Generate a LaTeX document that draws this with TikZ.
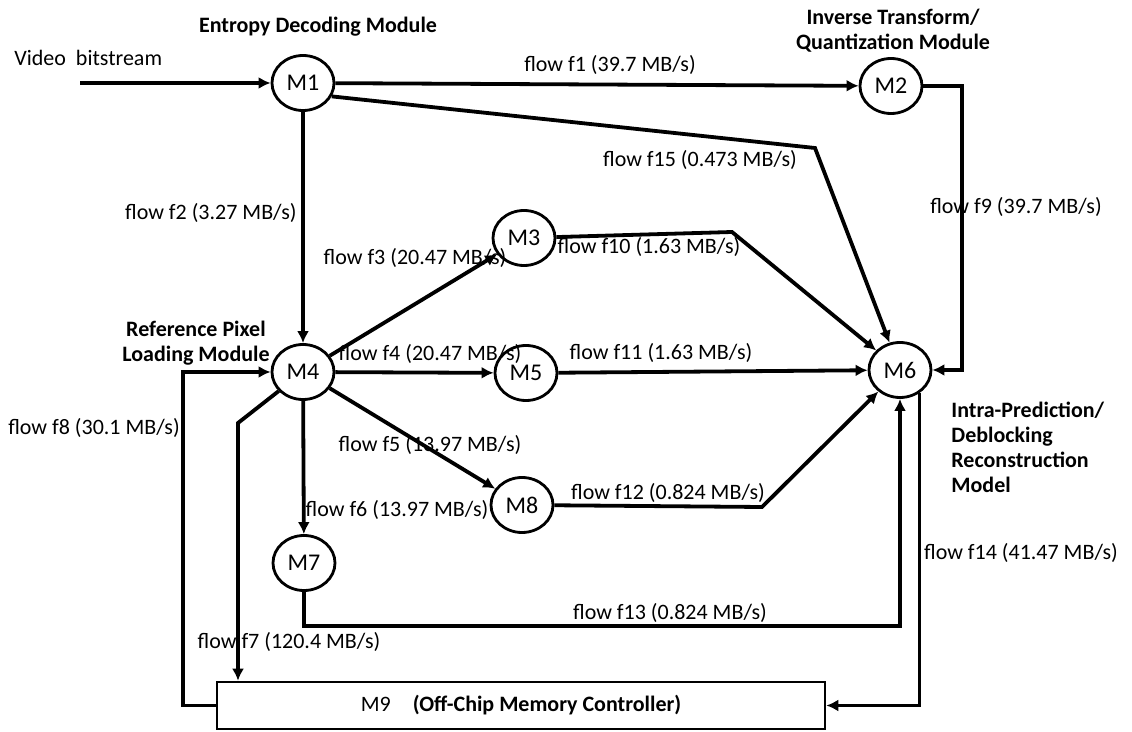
\documentclass[tikz,border=0pt]{standalone}
\usepackage{fontspec}
\setmainfont{Carlito}
\usetikzlibrary{shapes.geometric,arrows.meta}

\begin{document}
\begin{tikzpicture}[
  x=0.5pt, y=-0.5pt,
  module/.style={ellipse, draw, line width=1.4pt, fill=white, minimum width=31pt, minimum height=27.5pt, inner sep=0pt, font=\fontsize{12}{13}\selectfont},
  memctl/.style={rectangle, draw, line width=1.3pt, fill=white, minimum width=304pt, minimum height=23.5pt, inner sep=0pt, font=\fontsize{11}{12.5}\selectfont},
  rate/.style={font=\fontsize{11}{12.5}\selectfont, inner sep=1pt},
  title/.style={font=\fontsize{11}{12.5}\selectfont\bfseries, align=center, inner sep=0pt},
  flow/.style={-{Latex[length=6pt,width=6pt]}, line width=1.9pt},
]
\useasboundingbox (0,0) rectangle (1132,732);

% Modules
\node[module] (m1) at (303,83) {M1};
\node[module] (m2) at (891,86) {M2};
\node[module] (m3) at (524,238) {M3};
\node[module] (m4) at (303,372) {M4};
\node[module] (m5) at (526,373) {M5};
\node[module] (m6) at (900,370) {M6};
\node[module] (m7) at (304,563) {M7};
\node[module] (m8) at (522,505) {M8};
\node[memctl] (m9) at (521,705.5) {M9\quad\textbf{(Off-Chip Memory Controller)}};

% Module names
\node[title] (tm1) at (318,27) {Entropy Decoding Module};
\node[title] (tm2) at (893,31) {Inverse Transform/\\Quantization Module};
\node[title] (tm4) at (196,343) {Reference Pixel\\Loading Module};
\node[title, align=left, anchor=west] (tm6) at (951,447) {Intra-Prediction/\\Deblocking\\Reconstruction\\Model};
\node[rate, anchor=west] (vin) at (12,58) {Video\ \ bitstream};

% Bends
\coordinate (src) at (80,83);
\coordinate (b7) at (238,423);
\coordinate (c8) at (183,705.5);
\coordinate (c9) at (962,200);
\coordinate (b10) at (732,232);
\coordinate (b12) at (762,507);
\coordinate (c13) at (600,626);
\coordinate (b15) at (815,148);

% Flows
\draw[flow] (src) -- (m1);
\draw[flow] (m1) -- (m2);
\draw[flow] (m1) -- (m4);
\draw[flow] (m4) -- (m3);
\draw[flow] (m4) -- (m5);
\draw[flow] (m4) -- (m8);
\draw[flow] (m4) -- (m7);
\draw[flow] (m4) -- (b7) -- (b7 |- m9.north);
\draw[flow] (m9.west) -- (c8) |- (m4);
\draw[flow] (m2) -| (c9) |- (m6);
\draw[flow] (m3) -- (b10) -- (m6);
\draw[flow] (m5) -- (m6);
\draw[flow] (m8) -- (b12) -- (m6);
\draw[flow] (m7) |- (c13) -| (m6);
\draw[flow] (m6.-50) |- (m9);
\draw[flow] (m1.-25) -- (b15) -- (m6);

% Flow labels
\node[rate] (lf1) at (610,65) {flow f1 (39.7 MB/s)};
\node[rate, anchor=east] (lf2) at (299,213) {flow f2 (3.27 MB/s)};
\node[rate] (lf3) at (415,258) {flow f3 (20.47 MB/s)};
\node[rate] (lf4) at (430,354) {flow f4 (20.47 MB/s)};
\node[rate] (lf5) at (430,445) {flow f5 (13.97 MB/s)};
\node[rate] (lf6) at (397,510) {flow f6 (13.97 MB/s)};
\node[rate] (lf7) at (289,642) {flow f7 (120.4 MB/s)};
\node[rate] (lf8) at (94,428) {flow f8 (30.1 MB/s)};
\node[rate] (lf9) at (1016,207) {flow f9 (39.7 MB/s)};
\node[rate] (lf10) at (649,247) {flow f10 (1.63 MB/s)};
\node[rate] (lf11) at (661,353) {flow f11 (1.63 MB/s)};
\node[rate] (lf12) at (668,493) {flow f12 (0.824 MB/s)};
\node[rate] (lf13) at (670,613) {flow f13 (0.824 MB/s)};
\node[rate] (lf14) at (1021,553) {flow f14 (41.47 MB/s)};
\node[rate] (lf15) at (700,160) {flow f15 (0.473 MB/s)};

\end{tikzpicture}
\end{document}
